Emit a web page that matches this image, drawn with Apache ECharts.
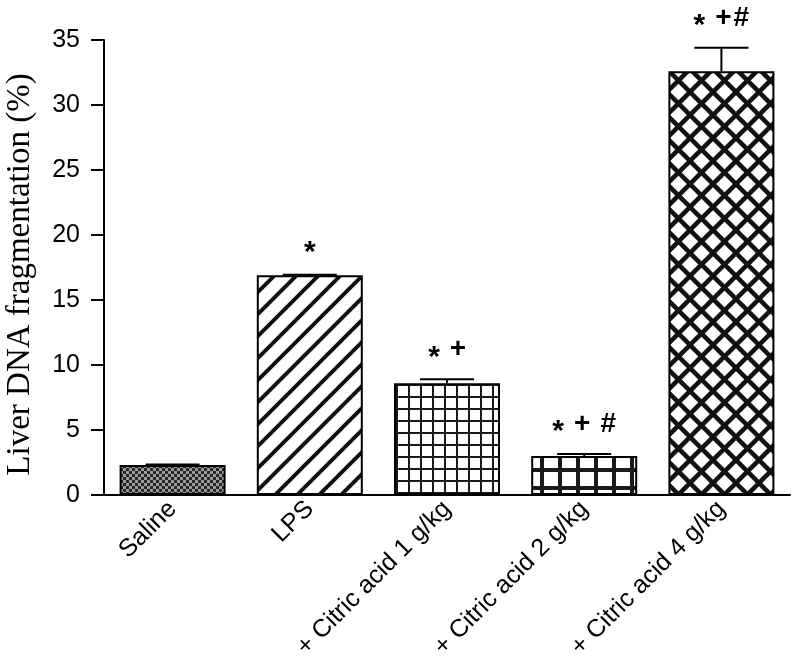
<!DOCTYPE html>
<html>
<head>
<meta charset="utf-8">
<script src="https://cdn.jsdelivr.net/npm/echarts@6/dist/echarts.min.js"></script>
<style>
html,body{margin:0;padding:0;background:#fff;}
#chart{width:792px;height:665px;}
</style>
</head>
<body>
<div id="chart"></div>
<script>
// ---- data ----
const categories = ['Saline', 'LPS', '+ Citric acid 1 g/kg', '+ Citric acid 2 g/kg', '+ Citric acid 4 g/kg'];
const means = [2.3, 16.9, 8.6, 3.0, 32.6];
const errors = [0.05, 0.05, 0.3, 0.15, 1.8];
const annotations = ['', '*', '* +', '* + #', '* +#'];
const yMin = 0, yMax = 35, yInterval = 5;
const yAxisTitle = 'Liver DNA fragmentation (%)';

// ---- patterns ----
function mk(w, h, draw) {
  const c = document.createElement('canvas');
  c.width = w; c.height = h;
  const ctx = c.getContext('2d');
  ctx.fillStyle = '#fff'; ctx.fillRect(0, 0, w, h);
  draw(ctx, w, h);
  return { image: c, repeat: 'repeat' };
}
const patChecker = mk(6, 6, (ctx) => {
  ctx.fillStyle = '#9a9a9a'; ctx.fillRect(0, 0, 6, 6);
  ctx.fillStyle = '#262626'; ctx.fillRect(0, 0, 3, 3); ctx.fillRect(3, 3, 3, 3);
});
const patDiag = mk(22, 22, (ctx, w, h) => {
  ctx.strokeStyle = '#111'; ctx.lineWidth = 4; ctx.lineCap = 'square';
  for (const o of [-22, 0, 22]) {
    ctx.beginPath(); ctx.moveTo(o - 5, h + 5); ctx.lineTo(o + w + 5, -5); ctx.stroke();
  }
});
const patCross = mk(23, 23, (ctx, w, h) => {
  ctx.strokeStyle = '#111'; ctx.lineWidth = 4.5;
  for (const o of [-23, 0, 23]) {
    ctx.beginPath(); ctx.moveTo(o - 5, h + 5); ctx.lineTo(o + w + 5, -5); ctx.stroke();
    ctx.beginPath(); ctx.moveTo(o - 5, -5); ctx.lineTo(o + w + 5, h + 5); ctx.stroke();
  }
});
const patGrid1 = mk(12, 12, (ctx) => {
  ctx.fillStyle = '#1a1a1a'; ctx.fillRect(0, 0, 2, 12); ctx.fillRect(0, 0, 12, 2);
});
const patGrid2 = mk(18, 18, (ctx) => {
  ctx.fillStyle = '#1a1a1a'; ctx.fillRect(0, 0, 4, 18); ctx.fillRect(0, 0, 18, 4);
});
const patterns = [patChecker, patDiag, patGrid1, patGrid2, patCross];

const chart = echarts.init(document.getElementById('chart'), null, { renderer: 'canvas' });

const advance = { '*': 14, '+': 18, '#': 18, ' ': 8 };

chart.setOption({
  animation: false,
  backgroundColor: '#fff',
  grid: { left: 104, right: 2, top: 40, bottom: 170, containLabel: false, outerBoundsMode: 'none' },
  xAxis: {
    type: 'category',
    data: categories,
    axisLine: { show: true, lineStyle: { color: '#000', width: 2 } },
    axisTick: { show: false },
    axisLabel: {
      rotate: 45, interval: 0, margin: 10,
      fontFamily: 'Liberation Sans, Arial, sans-serif', fontSize: 25, color: '#000'
    }
  },
  yAxis: {
    type: 'value',
    min: yMin, max: yMax, interval: yInterval,
    name: yAxisTitle,
    nameLocation: 'middle', nameGap: 67,
    nameTextStyle: {
      fontFamily: 'Liberation Serif, Times New Roman, serif', fontSize: 33, color: '#000',
      padding: [0, 14, 0, 0]
    },
    splitLine: { show: false },
    axisLine: { show: true, lineStyle: { color: '#000', width: 2 } },
    axisTick: { show: true, length: 13, lineStyle: { color: '#000', width: 2 } },
    axisLabel: { margin: 24, fontFamily: 'Liberation Sans, Arial, sans-serif', fontSize: 25, color: '#000' }
  },
  series: [
    {
      type: 'bar',
      barWidth: 106,
      data: means.map((v, i) => ({
        value: v,
        itemStyle: { color: patterns[i], borderColor: '#000', borderWidth: 2 }
      })),
      z: 2
    },
    {
      type: 'custom',
      z: 5,
      data: means.map((m, i) => [i, m, errors[i]]),
      renderItem: function (params, api) {
        const i = api.value(0), m = api.value(1), e = api.value(2);
        const base = api.coord([i, m]);
        const top = api.coord([i, m + e]);
        const half = 27;
        const children = [
          { type: 'line', shape: { x1: base[0], y1: base[1], x2: top[0], y2: top[1] }, style: { stroke: '#000', lineWidth: 2 } },
          { type: 'line', shape: { x1: top[0] - half, y1: top[1], x2: top[0] + half, y2: top[1] }, style: { stroke: '#000', lineWidth: 2 } }
        ];
        const txt = annotations[params.dataIndex];
        if (txt) {
          let total = 0;
          for (const ch of txt) total += advance[ch] || 16;
          let x = top[0] - total / 2;
          const cy = top[1] - 30;
          for (const ch of txt) {
            const a = advance[ch] || 16;
            if (ch !== ' ') {
              const isStar = ch === '*';
              children.push({
                type: 'text',
                style: {
                  text: ch,
                  x: x + a / 2,
                  y: cy + (isStar ? 8 : 0),
                  align: 'center', verticalAlign: 'middle',
                  font: 'bold ' + (isStar ? 30 : 28) + 'px "Liberation Sans", Arial, sans-serif',
                  fill: '#000'
                }
              });
            }
            x += a;
          }
        }
        return { type: 'group', children: children };
      }
    }
  ]
});
</script>
</body>
</html>
